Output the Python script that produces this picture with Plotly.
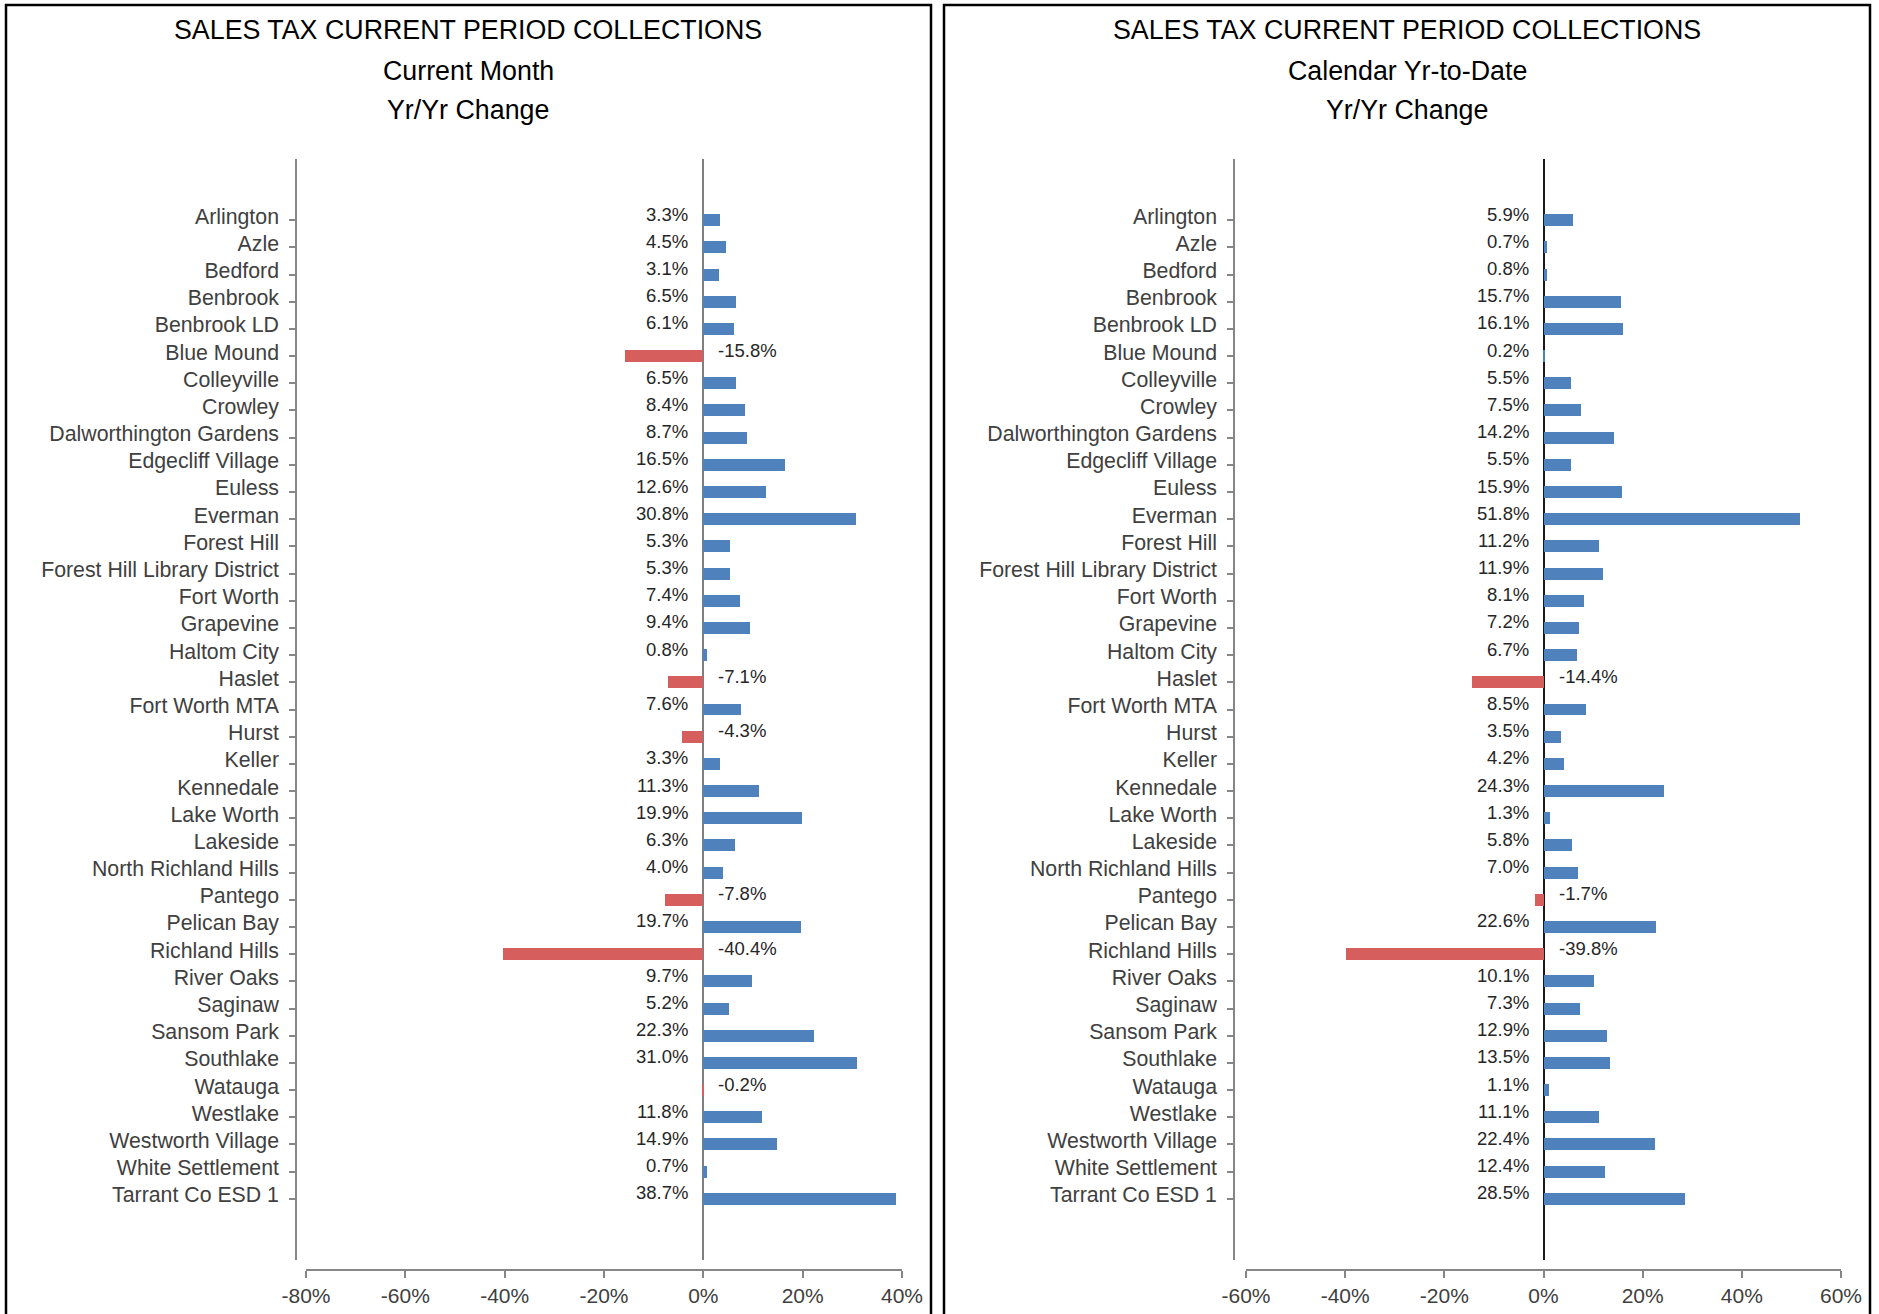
import plotly.graph_objects as go

categories = [
    "Arlington", "Azle", "Bedford", "Benbrook", "Benbrook LD", "Blue Mound",
    "Colleyville", "Crowley", "Dalworthington Gardens", "Edgecliff Village",
    "Euless", "Everman", "Forest Hill", "Forest Hill Library District",
    "Fort Worth", "Grapevine", "Haltom City", "Haslet", "Fort Worth MTA",
    "Hurst", "Keller", "Kennedale", "Lake Worth", "Lakeside",
    "North Richland Hills", "Pantego", "Pelican Bay", "Richland Hills",
    "River Oaks", "Saginaw", "Sansom Park", "Southlake", "Watauga",
    "Westlake", "Westworth Village", "White Settlement", "Tarrant Co ESD 1",
]

current_month = [
    3.3, 4.5, 3.1, 6.5, 6.1, -15.8, 6.5, 8.4, 8.7, 16.5, 12.6, 30.8, 5.3, 5.3,
    7.4, 9.4, 0.8, -7.1, 7.6, -4.3, 3.3, 11.3, 19.9, 6.3, 4.0, -7.8, 19.7,
    -40.4, 9.7, 5.2, 22.3, 31.0, -0.2, 11.8, 14.9, 0.7, 38.7,
]

year_to_date = [
    5.9, 0.7, 0.8, 15.7, 16.1, 0.2, 5.5, 7.5, 14.2, 5.5, 15.9, 51.8, 11.2, 11.9,
    8.1, 7.2, 6.7, -14.4, 8.5, 3.5, 4.2, 24.3, 1.3, 5.8, 7.0, -1.7, 22.6,
    -39.8, 10.1, 7.3, 12.9, 13.5, 1.1, 11.1, 22.4, 12.4, 28.5,
]

title_main = "SALES TAX CURRENT PERIOD COLLECTIONS"
subtitles = ["Current Month", "Calendar Yr-to-Date"]
title_third = "Yr/Yr Change"

tick_vals_left = [-80, -60, -40, -20, 0, 20, 40]
tick_text_left = ["-80%", "-60%", "-40%", "-20%", "0%", "20%", "40%"]
tick_vals_right = [-60, -40, -20, 0, 20, 40, 60]
tick_text_right = ["-60%", "-40%", "-20%", "0%", "20%", "40%", "60%"]

x_ranges = [[-80, 40], [-60, 60]]
tick_vals = [tick_vals_left, tick_vals_right]
tick_texts = [tick_text_left, tick_text_right]

BLUE = "#4F81BD"
RED = "#D65F5E"
AXIS_GRAY = "#868686"
FONT = "Liberation Sans, Arial, sans-serif"

W, H = 1879, 1314


def px_x(p):
    return p / W


def px_y(p):
    return 1 - p / H


fig = go.Figure()

series = [current_month, year_to_date]
for i, vals in enumerate(series):
    xa = "x" if i == 0 else "x2"
    ya = "y" if i == 0 else "y2"
    colors = [RED if v < 0 else BLUE for v in vals]
    fig.add_trace(go.Bar(
        x=vals, y=categories, orientation="h",
        marker=dict(color=colors, line=dict(width=0)),
        width=0.44, xaxis=xa, yaxis=ya, showlegend=False,
        hoverinfo="x+y",
    ))
    for cat, v in zip(categories, vals):
        fig.add_annotation(
            x=0, y=cat, xref=xa, yref=ya,
            text=f"{v:.1f}%", showarrow=False,
            xanchor="right" if v >= 0 else "left",
            xshift=-13 if v >= 0 else 13, yshift=6,
            font=dict(family=FONT, size=18.5, color="#262626"),
        )

# layout geometry (pixels -> paper)
x_domains = [[px_x(306), px_x(902)], [px_x(1246), px_x(1841)]]
y_line_pos = [px_x(296), px_x(1234)]
y_domain = [px_y(1260), px_y(159)]
x_axis_pos = px_y(1270)
zero_colors = ["#7F7F7F", "#1A1A1A"]

for i in range(2):
    sfx = "" if i == 0 else "2"
    fig.update_layout(**{
        f"xaxis{sfx}": dict(
            domain=x_domains[i], range=x_ranges[i], anchor="free",
            position=x_axis_pos, tickmode="array", tickvals=tick_vals[i],
            ticktext=tick_texts[i], automargin=False,
            showgrid=False, showline=True, linecolor=AXIS_GRAY, linewidth=1.5,
            ticks="outside", ticklen=7, tickwidth=1.5, tickcolor=AXIS_GRAY,
            zeroline=True, zerolinecolor=zero_colors[i], zerolinewidth=1.5,
            tickfont=dict(family=FONT, size=21, color="#404040"),
            fixedrange=True,
        ),
        f"yaxis{sfx}": dict(
            domain=y_domain, anchor="free", position=y_line_pos[i],
            type="category", categoryorder="array", categoryarray=categories,
            range=[38.25, -2.25], showgrid=False, showline=True,
            linecolor=AXIS_GRAY, linewidth=1.5, ticks="outside", ticklen=6,
            tickwidth=1.5, tickcolor=AXIS_GRAY, zeroline=False,
            automargin=False,
            tickfont=dict(family=FONT, size=21.3, color="#404040"),
            ticklabelstandoff=6, ticklabelshift=4, fixedrange=True,
        ),
    })

# titles
centers = [468, 1407]
for i in range(2):
    for text, yc in [(title_main, 30), (subtitles[i], 71), (title_third, 110)]:
        fig.add_annotation(
            x=px_x(centers[i]), y=px_y(yc), xref="paper", yref="paper",
            text=text, showarrow=False, xanchor="center", yanchor="middle",
            font=dict(family=FONT, size=26.8, color="#000000"),
        )

# panel borders
panels = [(6, 931), (944, 1870)]
for (x0, x1) in panels:
    fig.add_shape(
        type="rect", xref="paper", yref="paper",
        x0=px_x(x0), x1=px_x(x1), y0=-0.02, y1=px_y(5),
        line=dict(color="#000000", width=2.5), fillcolor="rgba(0,0,0,0)",
        layer="above",
    )

fig.update_layout(
    width=W, height=H,
    margin=dict(l=0, r=0, t=0, b=0, autoexpand=False),
    paper_bgcolor="white", plot_bgcolor="white",
    bargap=0, barmode="overlay",
    font=dict(family=FONT),
)

fig.write_html("out.html")
